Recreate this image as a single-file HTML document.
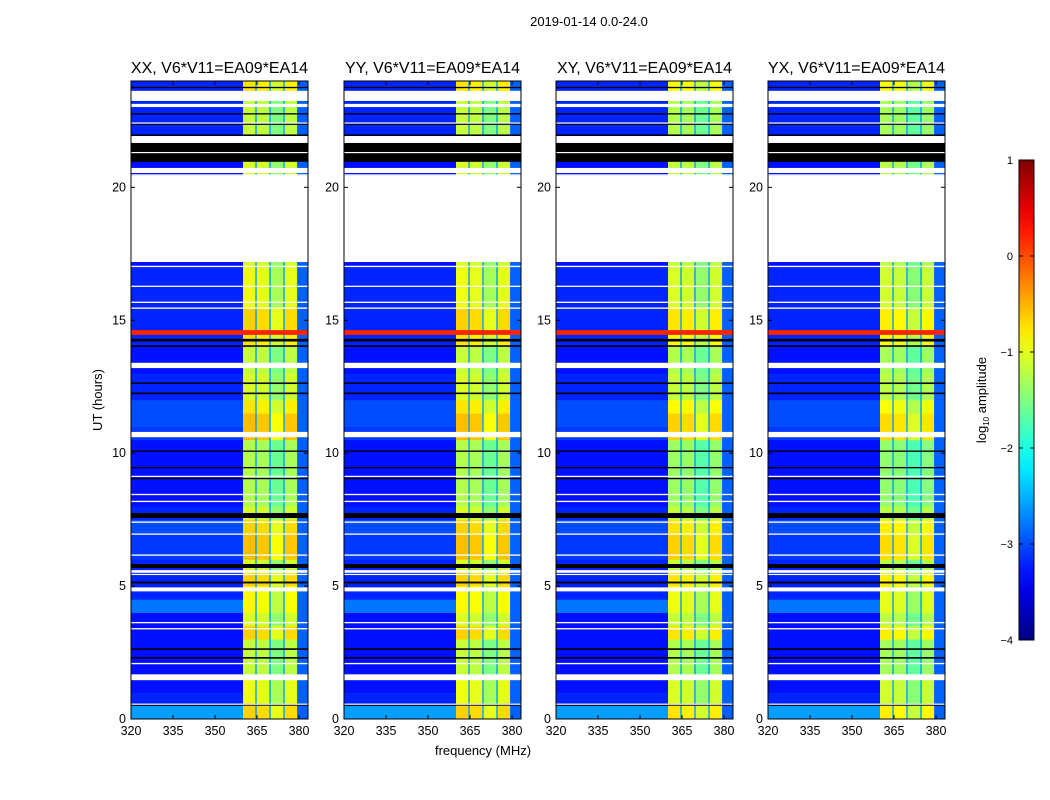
<!DOCTYPE html>
<html><head><meta charset="utf-8"><style>
body{margin:0;background:#fff;}
svg{display:block;font-family:"Liberation Sans",sans-serif;}
</style></head><body>
<svg id="fig" width="1050" height="800" viewBox="0 0 1050 800">
<rect width="1050" height="800" fill="#fff"/>
<text x="589" y="26" font-size="13" text-anchor="middle">2019-01-14 0.0-24.0</text>
<text x="483" y="755" font-size="13" text-anchor="middle">frequency (MHz)</text>
<text x="0" y="0" font-size="13" text-anchor="middle" transform="translate(102,400) rotate(-90)">UT (hours)</text>
<g id="panels"></g>
<g id="cbar"></g>
</svg>
<script>
// ---- data ----
const panelTitles = ["XX, V6*V11=EA09*EA14","YY, V6*V11=EA09*EA14","XY, V6*V11=EA09*EA14","YX, V6*V11=EA09*EA14"];
const panelOffset = [0, 0.0, -0.1, -0.15];
// band level per half hour (hour 0 .. 24)
const bandLevel = [-0.7,-1.0,-1.0,-1.2,-1.2,-1.2,-0.7,-1.1,-0.9,-0.9,-0.7,-1.1,-0.6,-0.6,-0.7,-1.1,
 -1.3,-1.3,-1.3,-1.3,-1.3,-0.6,-0.6,-0.8,-1.1,-1.1,-1.2,-1.2,-0.8,-0.7,-0.7,-1.0,
 -1.0,-1.0,-1.1,-1.1,-1.1,-1.1,-1.1,-1.1,-1.1,-1.1,-1.1,-1.1,-1.2,-1.2,-1.2,-0.8];
const bgLevel = [-2.6,-3.2,-3.3,-3.3,-3.3,-3.3,-3.3,-3.3,-2.8,-3.2,-3.2,-3.2,-3.1,-3.1,-3.0,-3.2,
 -3.3,-3.3,-3.3,-3.3,-3.3,-3.1,-3.0,-3.0,-3.2,-3.2,-3.3,-3.3,-3.2,-3.2,-3.2,-3.2,
 -3.2,-3.2,-3.3,-3.3,-3.3,-3.3,-3.3,-3.3,-3.3,-3.3,-3.2,-3.2,-3.2,-3.2,-3.2,-3.2];
const windowEdges = [360, 364.6, 369.6, 374.6, 379.3];
const windowOffset = [0.05, 0, -0.3, 0.0];
const tailLevel = -2.9;
const whiteGaps = [[23.25,23.63],[23.02,23.14],[22.4,22.44],[21.67,21.93],[21.3,21.33],[20.54,20.73],[20.43,20.49],[17.19,20.43],
 [17.0,17.05],[16.25,16.3],[15.65,15.7],[15.43,15.48],[13.2,13.4],[10.6,10.8],[9.1,9.15],[8.42,8.47],[8.16,8.21],
 [7.38,7.43],[6.93,6.98],[6.14,6.19],[5.50,5.60],[5.43,5.46],[4.8,4.95],[3.6,3.65],[3.37,3.42],[2.06,2.11],[1.46,1.68],[0.55,0.58]];
const blackFlags = [[23.73,23.78],[22.74,22.79],[22.4,22.35],[21.93,21.99],[20.96,21.67],[14.2,14.3],[14.0,14.06],
 [12.6,12.66],[12.22,12.28],[10.05,10.1],[9.43,9.48],[9.02,9.07],[7.56,7.75],[5.68,5.83],[5.1,5.17],[2.6,2.66],[2.27,2.33],[0.5,0.58]];
const hotLines = [[14.45,14.63,0.2]];
const xTicks = [320,335,350,365,380];
const yTicks = [0,5,10,15,20];
const cbTicks = [1,0,-1,-2,-3,-4];

// ---- geometry ----
const panelX = [131,344,556,768], PW = 177, Y0 = 719, Y1 = 81;
const F0 = 320, F1 = 383.2, H0 = 0, H1 = 24, VMIN = -4, VMAX = 1;
const ns = "http://www.w3.org/2000/svg";
function yS(h){return Y0 - (h-H0)/(H1-H0)*(Y0-Y1);}
function xS(px,f){return px + (f-F0)/(F1-F0)*PW;}
function jet(v){
  let t=(v-VMIN)/(VMAX-VMIN); t=Math.max(0,Math.min(1,t));
  const c=x=>Math.round(255*Math.max(0,Math.min(1,x)));
  const r=c(Math.min(4*t-1.5,-4*t+4.5)), g=c(Math.min(4*t-0.5,-4*t+3.5)), b=c(Math.min(4*t+0.5,-4*t+2.5));
  return `rgb(${r},${g},${b})`;
}
function el(tag,attrs,parent){const e=document.createElementNS(ns,tag);for(const k in attrs)e.setAttribute(k,attrs[k]);parent.appendChild(e);return e;}

const root=document.getElementById('panels');
panelX.forEach((px,pi)=>{
  const g=el('g',{},root);
  
  
  const clip=el('clipPath',{id:'c'+pi},g); el('rect',{x:px,y:Y1,width:PW,height:Y0-Y1},clip);
  const hm=el('g',{'clip-path':'url(#c'+pi+')'},g);
  
  
  for(let i=0;i<bandLevel.length;i++){
    const h0=i*0.5,h1=h0+0.5, yt=yS(h1), hh=yS(h0)-yS(h1)+0.3;
    const bg=el('rect',{x:px,y:yt,width:xS(px,windowEdges[0])-px,height:hh,fill:jet(bgLevel[i])},hm);
    
    
    for(let w=0;w<4;w++){
      const xa=xS(px,windowEdges[w]), xb=xS(px,windowEdges[w+1]);
      el('rect',{x:xa,y:yt,width:xb-xa,height:hh,fill:jet(bandLevel[i]+windowOffset[w]+panelOffset[pi])},hm);
      if(w>0){el('rect',{x:xa-0.6,y:yt,width:1.4,height:hh,fill:jet(-2.6)},hm);}
    }
    const xt=xS(px,windowEdges[4]);
    el('rect',{x:xt,y:yt,width:px+PW-xt,height:hh,fill:jet(tailLevel)},hm);
  }
  hotLines.forEach(l=>{const r=el('rect',{x:px,y:yS(l[1]),width:PW,height:yS(l[0])-yS(l[1]),fill:jet(l[2])},hm);
    });
  blackFlags.forEach(b=>{const lo=Math.min(b[0],b[1]),hi=Math.max(b[0],b[1]);
    const r=el('rect',{x:px,y:yS(hi),width:PW,height:Math.max(1.2,yS(lo)-yS(hi)),fill:'#000'},hm);
    });
  whiteGaps.forEach(b=>{const r=el('rect',{x:px,y:yS(b[1]),width:PW,height:Math.max(1.2,yS(b[0])-yS(b[1])),fill:'#fff'},hm);
    });
  const fr=el('rect',{x:px,y:Y1,width:PW,height:Y0-Y1,fill:'none',stroke:'#000','stroke-width':1},g);
  
  const t=el('text',{x:px+PW/2,y:73,'font-size':16,'text-anchor':'middle'},g);t.textContent=panelTitles[pi];
  
  xTicks.forEach(v=>{const x=xS(px,v);
    el('line',{x1:x,x2:x,y1:Y0,y2:Y0-4,stroke:'#000'},g);el('line',{x1:x,x2:x,y1:Y1,y2:Y1+4,stroke:'#000'},g);
    const tx=el('text',{x:x,y:Y0+16,'font-size':12.5,'text-anchor':'middle'},g);tx.textContent=v;
    });
  yTicks.forEach(v=>{const y=yS(v);
    el('line',{x1:px,x2:px+4,y1:y,y2:y,stroke:'#000'},g);el('line',{x1:px+PW,x2:px+PW-4,y1:y,y2:y,stroke:'#000'},g);
    const ty=el('text',{x:px-5,y:y+4,'font-size':12.5,'text-anchor':'end'},g);ty.textContent=v;
    });
});

// colorbar
const cb=document.getElementById('cbar'), CX=1019, CW=15, CT=160, CB=640;
const defs=el('defs',{},cb), lg=el('linearGradient',{id:'jetg',x1:0,y1:1,x2:0,y2:0},defs);
for(let i=0;i<=20;i++){el('stop',{offset:i/20,'stop-color':jet(VMIN+(VMAX-VMIN)*i/20)},lg);}
el('rect',{x:CX,y:CT,width:CW,height:CB-CT,fill:'url(#jetg)',stroke:'#000'},cb);
cbTicks.forEach(v=>{const y=CB-(v-VMIN)/(VMAX-VMIN)*(CB-CT);
  el('line',{x1:CX,x2:CX+4,y1:y,y2:y,stroke:'#000'},cb);el('line',{x1:CX+CW,x2:CX+CW-4,y1:y,y2:y,stroke:'#000'},cb);
  const t=el('text',{x:CX-6,y:y+4,'font-size':11,'text-anchor':'end'},cb);t.textContent=(v<0?'\u2212'+(-v):v);
  });
const cl=el('text',{x:0,y:0,'font-size':13,'text-anchor':'middle',transform:'translate(986,400) rotate(-90)'},cb);
cl.innerHTML='log<tspan font-size="8" dy="3">10</tspan><tspan dy="-3"> amplitude</tspan>';


</script>
</body></html>
